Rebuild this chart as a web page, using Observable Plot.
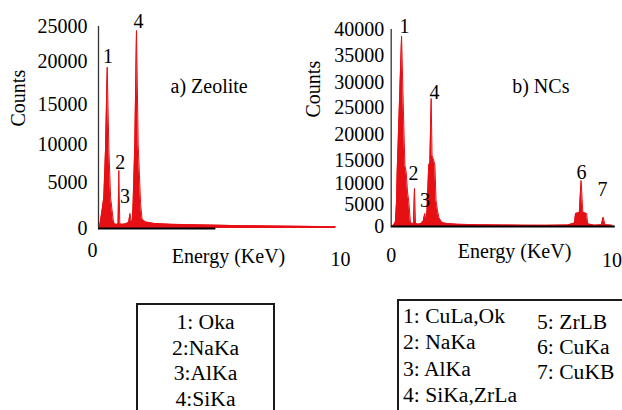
<!DOCTYPE html>
<html><head><meta charset="utf-8">
<script src="https://cdn.jsdelivr.net/npm/d3@7"></script>
<script src="https://cdn.jsdelivr.net/npm/@observablehq/plot@0.6"></script>
<style>
body{margin:0;background:#fff;}
#wrap{position:relative;width:622px;height:410px;overflow:hidden;background:#fff;font-family:"Liberation Serif",serif;color:#000;}
#wrap svg{position:absolute;left:0;top:0;background:transparent !important;font-family:"Liberation Serif",serif !important;font-size:20px !important;overflow:visible;}
#wrap svg text{font-family:"Liberation Serif",serif !important;}
.box{position:absolute;border:2px solid #1a1a1a;box-sizing:border-box;}
.col{position:absolute;font-size:20px;white-space:nowrap;}
.col div{transform:scaleX(1.08);}
</style></head><body><div id="wrap"></div><script>
// ---- data ----
const xTicks = [0, 10];
const xLabel = "Energy (KeV)";
const yLabel = "Counts";

// a) Zeolite
const leftTitle = "a) Zeolite";
const leftYTicks = [0, 5000, 10000, 15000, 20000, 25000];
const leftEnergy = [0, 0.05, 0.15, 0.22, 0.29, 0.36, 0.43, 0.50, 0.56, 0.62, 0.70, 0.78, 0.81, 0.84, 0.88, 0.96, 1.10, 1.20, 1.25, 1.30, 1.36, 1.40, 1.43, 1.50, 1.57, 1.64, 1.74, 1.80, 1.95, 2.3, 3, 4, 5, 6, 7, 8, 9, 9.8];
const leftCounts = [0, 300, 2000, 3400, 9300, 19340, 9300, 3400, 2000, 700, 450, 450, 600, 6580, 500, 450, 500, 600, 700, 1630, 700, 900, 2700, 10000, 24430, 10000, 2700, 1000, 700, 550, 450, 400, 350, 300, 280, 250, 220, 180];
const leftPeakLabels = ["1", "2", "3", "4"];
const leftLabelEnergy = [0.39, 0.90, 1.10, 1.65];
const leftLabelCounts = [20640, 7630, 3480, 25710];
const leftLegend = ["1: Oka", "2:NaKa", "3:AlKa", "4:SiKa"];

// b) NCs
const rightTitle = "b) NCs";
const rightYTicks = [0, 5000, 10000, 15000, 20000, 25000, 30000, 35000, 40000];
const rightEnergy = [0, 0.10, 0.19, 0.24, 0.27, 0.34, 0.47, 0.57, 0.62, 0.68, 0.74, 0.80, 0.87, 0.95, 1.01, 1.055, 1.10, 1.20, 1.35, 1.45, 1.52, 1.57, 1.62, 1.70, 1.75, 1.81, 1.85, 1.90, 1.98, 2.03, 2.10, 2.16, 2.30, 2.5, 3, 4, 5, 6, 7, 8, 8.30, 8.35, 8.52, 8.60, 8.68, 8.85, 8.90, 9.2, 9.52, 9.60, 9.68, 10];
const rightCounts = [0, 300, 1000, 5500, 12460, 21700, 38710, 21700, 14000, 12460, 8000, 5500, 1000, 600, 800, 8810, 800, 500, 700, 1200, 2950, 1200, 3500, 14000, 14500, 26860, 16000, 15400, 14000, 6000, 3500, 2000, 900, 700, 500, 400, 350, 300, 280, 350, 800, 2950, 3200, 10650, 3200, 2950, 600, 300, 400, 2110, 400, 300];
const rightPeakLabels = ["1", "2", "3", "4", "6", "7"];
const rightLabelEnergy = [0.60, 1.01, 1.53, 1.96, 8.62, 9.57];
const rightLabelCounts = [40580, 12170, 5830, 27940, 12460, 8570];
const rightLegend1 = ["1: CuLa,Ok", "2: NaKa", "3: AlKa", "4: SiKa,ZrLa"];
const rightLegend2 = ["5: ZrLB", "6: CuKa", "7: CuKB"];

// ---- styling constants ----
const RED = "#e60f14";
const leftBlackEnd = 4.85;
const rightBlackEnd = 10.15;
// uneven spacing of the printed tick labels, reproduced by a piecewise transform
const leftTickPos = [228, 182, 144, 104, 61, 26];
const rightTickPos = [226, 204, 183, 160, 134, 107.5, 82, 55, 29];
const leftWarp = d3.scaleLinear().domain(leftYTicks).range(leftTickPos);
const rightWarp = d3.scaleLinear().domain(rightYTicks).range(rightTickPos);

const leftData = leftEnergy.map((e, i) => ({energy: e, counts: leftCounts[i]}));
const rightData = rightEnergy.map((e, i) => ({energy: e, counts: rightCounts[i]}));
const fmt = d3.format("d");
const FONT = "Liberation Serif";
const svgStyle = {fontFamily: FONT, fontSize: "20px", background: "transparent", color: "#000", overflow: "visible"};

const left = Plot.plot({
  width: 622, height: 280,
  marginLeft: 98, marginRight: 282, marginTop: 20, marginBottom: 52,
  x: {domain: [0, 10], range: [98, 340], label: null},
  y: {transform: leftWarp, domain: [228, 26], range: [228, 26], label: null},
  style: svgStyle,
  marks: [
    Plot.areaY(leftData, {x: "energy", y: "counts", fill: RED, curve: "linear"}),
    Plot.lineY(leftData, {x: "energy", y: "counts", stroke: RED, strokeWidth: 1, curve: "linear"}),
    Plot.ruleY([0], {x1: 0, x2: leftBlackEnd, stroke: "#000", strokeWidth: 2}),
    Plot.ruleX([0], {y1: 0, y2: leftYTicks[leftYTicks.length - 1], stroke: "#333", strokeWidth: 1.3}),
    Plot.axisY(leftYTicks, {tickSize: 0, tickPadding: 11, tickFormat: fmt, label: null, fontFamily: FONT, fontSize: 20}),
    Plot.axisX([xTicks[0]], {tickSize: 0, tickPadding: 14, dx: -6, label: null, fontFamily: FONT, fontSize: 20}),
    Plot.axisX([xTicks[1]], {tickSize: 0, tickPadding: 23, label: null, fontFamily: FONT, fontSize: 20}),
    Plot.text([xLabel], {text: d => d, frameAnchor: "bottom", dx: 9, dy: 34.5, fontFamily: FONT, fontSize: 20}),
    Plot.text([yLabel], {text: d => d, frameAnchor: "left", rotate: -90, dx: -80, dy: 2, fontFamily: FONT, fontSize: 20}),
    Plot.text([leftTitle], {text: d => d, frameAnchor: "top-left", textAnchor: "start", dx: 72, dy: 58.5, fontFamily: FONT, fontSize: 20}),
    Plot.text(leftPeakLabels, {text: d => d, x: (d, i) => leftLabelEnergy[i], y: (d, i) => leftLabelCounts[i], fontFamily: FONT, fontSize: 20})
  ]
});

const right = Plot.plot({
  width: 622, height: 280,
  marginLeft: 390.7, marginRight: 10.5, marginTop: 20, marginBottom: 54,
  x: {domain: [0, 10], range: [390.7, 611.5], label: null},
  y: {transform: rightWarp, domain: [226, 29], range: [226, 29], label: null},
  style: svgStyle,
  marks: [
    Plot.areaY(rightData, {x: "energy", y: "counts", fill: RED, curve: "linear"}),
    Plot.lineY(rightData, {x: "energy", y: "counts", stroke: RED, strokeWidth: 1, curve: "linear"}),
    Plot.ruleY([0], {x1: 0, x2: rightBlackEnd, stroke: "#000", strokeWidth: 2}),
    Plot.ruleX([0], {y1: 0, y2: rightYTicks[rightYTicks.length - 1], stroke: "#333", strokeWidth: 1.3}),
    Plot.axisY(rightYTicks, {tickSize: 0, tickPadding: 7, tickFormat: fmt, label: null, fontFamily: FONT, fontSize: 20}),
    Plot.axisX([xTicks[0]], {tickSize: 0, tickPadding: 21, label: null, fontFamily: FONT, fontSize: 20}),
    Plot.axisX([xTicks[1]], {tickSize: 0, tickPadding: 26, label: null, fontFamily: FONT, fontSize: 20}),
    Plot.text([xLabel], {text: d => d, frameAnchor: "bottom", dx: 13, dy: 31.5, fontFamily: FONT, fontSize: 20}),
    Plot.text([yLabel], {text: d => d, frameAnchor: "left", rotate: -90, dx: -77.4, dy: -6, fontFamily: FONT, fontSize: 20}),
    Plot.text([rightTitle], {text: d => d, frameAnchor: "top-left", textAnchor: "start", dx: 121, dy: 58.5, fontFamily: FONT, fontSize: 20}),
    Plot.text(rightPeakLabels, {text: d => d, x: (d, i) => rightLabelEnergy[i], y: (d, i) => rightLabelCounts[i], fontFamily: FONT, fontSize: 20})
  ]
});

const wrap = document.getElementById("wrap");
wrap.appendChild(left);
wrap.appendChild(right);

function addBox(l, t, w, h) {
  const b = document.createElement("div");
  b.className = "box";
  Object.assign(b.style, {left: l + "px", top: t + "px", width: w + "px", height: h + "px"});
  wrap.appendChild(b);
}
function addCol(lines, l, t, lh, align, w) {
  const c = document.createElement("div");
  c.className = "col";
  Object.assign(c.style, {left: l + "px", top: t + "px", lineHeight: lh + "px", textAlign: align});
  if (w) c.style.width = w + "px";
  for (const s of lines) {
    const d = document.createElement("div");
    d.textContent = s;
    d.style.transformOrigin = align === "center" ? "center" : "left";
    c.appendChild(d);
  }
  wrap.appendChild(c);
}
addBox(136, 303, 139, 140);
addCol(leftLegend, 136, 310.2, 25.5, "center", 139);
addBox(397, 299, 260, 140);
addCol(rightLegend1, 403, 302.75, 26.5, "left");
addCol(rightLegend2, 537, 309.85, 25.3, "left");
</script></body></html>
